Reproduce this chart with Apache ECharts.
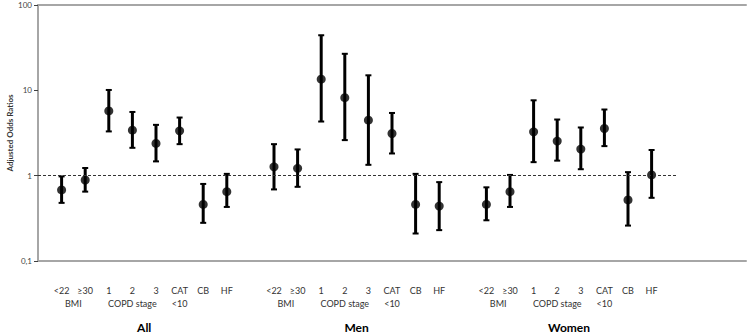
<!DOCTYPE html>
<html>
<head>
<meta charset="utf-8">
<script src="https://cdn.jsdelivr.net/npm/echarts@6/dist/echarts.min.js"></script>
<style>
html,body{margin:0;padding:0;background:#fff;}
#chart{width:750px;height:336px;}
</style>
</head>
<body>
<div id="chart"></div>
<script>
// ---- data ----
const categories = ['<22', '≥30', '1', '2', '3', 'CAT', 'CB', 'HF'];
const groups = ['All', 'Men', 'Women'];
const subLabels = ['BMI', 'COPD stage', '<10'];
const subLabelFirst = [0, 2, 5];
const subLabelLast = [1, 4, 5];

const allOR   = [0.68, 0.89, 5.73, 3.41, 2.39, 3.35, 0.46, 0.65];
const allLow  = [0.48, 0.65, 3.30, 2.12, 1.47, 2.34, 0.28, 0.43];
const allHigh = [0.98, 1.23, 10.1, 5.58, 3.94, 4.80, 0.80, 1.05];

const menOR   = [1.27, 1.22, 13.5, 8.2, 4.47, 3.12, 0.46, 0.44];
const menLow  = [0.69, 0.74, 4.31, 2.61, 1.34, 1.82, 0.21, 0.23];
const menHigh = [2.34, 2.03, 44.2, 26.8, 15.0, 5.43, 1.05, 0.84];

const womenOR   = [0.46, 0.65, 3.26, 2.54, 2.05, 3.57, 0.52, 1.02];
const womenLow  = [0.30, 0.43, 1.44, 1.50, 1.19, 2.22, 0.26, 0.55];
const womenHigh = [0.73, 1.02, 7.64, 4.55, 3.67, 5.96, 1.10, 2.00];

const yTickValues = [0.1, 1, 10, 100];
const yTickLabels = ['0,1', '1', '10', '100'];
const yAxisTitle = 'Adjusted Odds Ratios';
const referenceValue = 1;

// ---- build ----
const ORs = [allOR, menOR, womenOR];
const lows = [allLow, menLow, womenLow];
const highs = [allHigh, menHigh, womenHigh];
const slot = categories.length + 1;
const xPos = (g, i) => g * slot + i + 1;

const points = [], bars = [];
groups.forEach((gName, g) => {
  categories.forEach((c, i) => {
    points.push([xPos(g, i), ORs[g][i]]);
    bars.push([xPos(g, i), lows[g][i], highs[g][i]]);
  });
});

const near = (a, b) => Math.abs(a - b) < 1e-6;
function row1(v) {
  for (let g = 0; g < groups.length; g++)
    for (let i = 0; i < categories.length; i++)
      if (near(v, xPos(g, i))) return categories[i];
  return '';
}
function row2(v) {
  for (let g = 0; g < groups.length; g++)
    for (let j = 0; j < subLabels.length; j++)
      if (near(v, (xPos(g, subLabelFirst[j]) + xPos(g, subLabelLast[j])) / 2)) return subLabels[j];
  return '';
}
function row3(v) {
  for (let g = 0; g < groups.length; g++)
    if (near(v, (xPos(g, 0) + xPos(g, categories.length - 1)) / 2)) return groups[g];
  return '';
}
function yLabel(v) {
  for (let k = 0; k < yTickValues.length; k++)
    if (Math.abs(Math.log10(v) - Math.log10(yTickValues[k])) < 1e-6) return yTickLabels[k];
  return '';
}

const FONT = 'Lato, "Open Sans", sans-serif';
const frameColor = '#a6a6a6';
const xMax = slot * groups.length + 3;

function hiddenX(extra) {
  return Object.assign({
    type: 'value', min: 0, max: xMax, position: 'bottom',
    axisLine: { show: false }, axisTick: { show: false }, splitLine: { show: false }
  }, extra);
}

const chart = echarts.init(document.getElementById('chart'), null, { renderer: 'svg' });
chart.setOption({
  animation: false,
  backgroundColor: '#fff',
  grid: { left: 38, right: 4, top: 5, bottom: 75, containLabel: false, outerBoundsMode: 'none' },
  xAxis: [
    hiddenX({
      interval: 1,
      axisLine: { show: true, lineStyle: { color: frameColor, width: 2 } },
      axisLabel: { formatter: row1, margin: 25, fontSize: 9, color: '#333', fontFamily: FONT }
    }),
    hiddenX({
      interval: 0.5,
      axisLabel: { formatter: row2, margin: 38, fontSize: 9, color: '#333', fontFamily: FONT }
    }),
    hiddenX({
      interval: 0.5,
      axisLabel: { formatter: row3, margin: 60, fontSize: 12, fontWeight: 'bold', color: '#000', fontFamily: FONT }
    }),
    hiddenX({
      position: 'top',
      axisLine: { show: true, lineStyle: { color: frameColor, width: 2 } },
      axisLabel: { show: false }
    })
  ],
  yAxis: [
    {
      type: 'log', logBase: 10, min: yTickValues[0], max: yTickValues[yTickValues.length - 1],
      name: yAxisTitle, nameLocation: 'middle', nameGap: 24, nameMoveOverlap: false,
      nameTextStyle: { fontSize: 8, fontWeight: 'bold', color: '#333', fontFamily: FONT },
      axisLine: { show: true, lineStyle: { color: '#404040', width: 1 } },
      axisTick: { show: true, length: 4, lineStyle: { color: '#404040' } },
      axisLabel: { formatter: yLabel, fontSize: 8, color: '#444', margin: 6, fontFamily: FONT },
      splitLine: { show: false },
      minorTick: { show: false }
    },
    {
      type: 'log', logBase: 10, min: yTickValues[0], max: yTickValues[yTickValues.length - 1],
      position: 'right',
      axisLine: { show: true, lineStyle: { color: frameColor, width: 2 } },
      axisTick: { show: false }, axisLabel: { show: false }, splitLine: { show: false }
    }
  ],
  series: [
    {
      type: 'custom',
      xAxisIndex: 0, yAxisIndex: 0,
      data: bars,
      renderItem: function (params, api) {
        const x = api.value(0);
        const lo = api.coord([x, api.value(1)]);
        const hi = api.coord([x, api.value(2)]);
        const cap = 3;
        const style = { stroke: '#000', lineWidth: 3 };
        const capStyle = { stroke: '#000', lineWidth: 2 };
        return {
          type: 'group',
          children: [
            { type: 'line', shape: { x1: lo[0], y1: lo[1], x2: hi[0], y2: hi[1] }, style: style },
            { type: 'line', shape: { x1: lo[0] - cap, y1: lo[1], x2: lo[0] + cap, y2: lo[1] }, style: capStyle },
            { type: 'line', shape: { x1: hi[0] - cap, y1: hi[1], x2: hi[0] + cap, y2: hi[1] }, style: capStyle }
          ]
        };
      },
      z: 3
    },
    {
      type: 'scatter',
      xAxisIndex: 0, yAxisIndex: 0,
      data: points,
      symbol: 'circle', symbolSize: 9,
      itemStyle: { color: '#000' },
      z: 4,
      markLine: {
        silent: true, symbol: 'none', label: { show: false },
        lineStyle: { color: '#333', width: 1, type: [3, 2] },
        data: [[{ coord: [0, referenceValue] }, { coord: [27.1, referenceValue] }]]
      }
    }
  ]
});
</script>
</body>
</html>
